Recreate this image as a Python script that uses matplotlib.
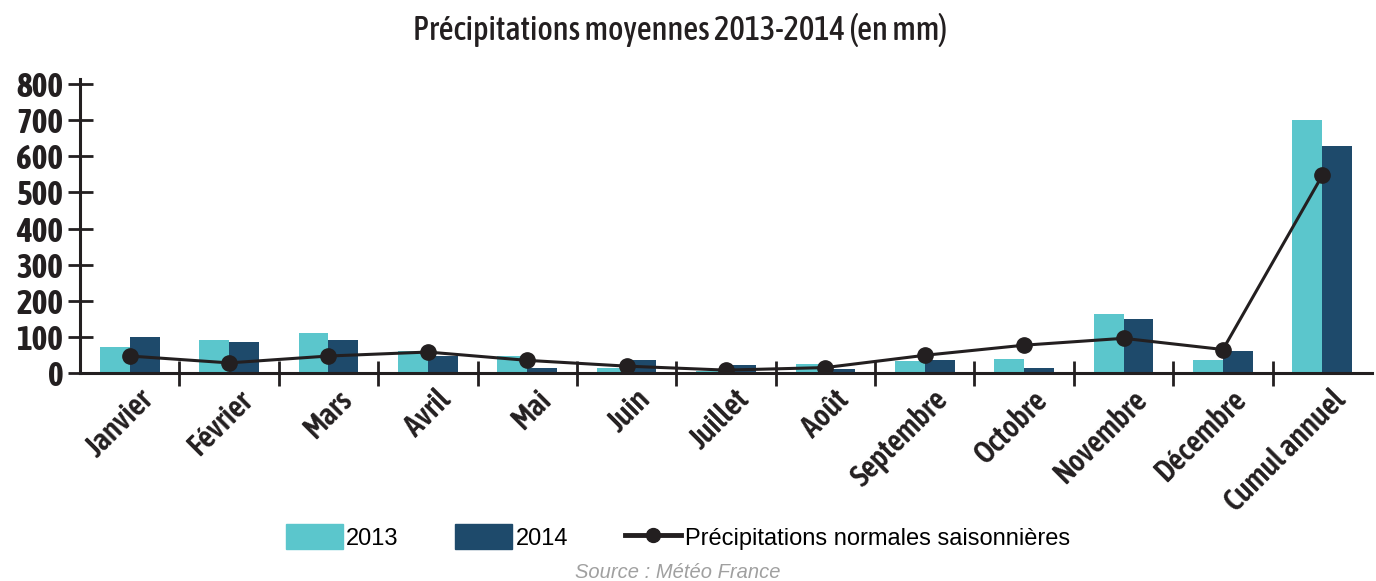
import matplotlib
matplotlib.use("Agg")
import matplotlib.pyplot as plt
import matplotlib.patheffects as pe
import numpy as np
from matplotlib.patches import Patch
from matplotlib.lines import Line2D
from matplotlib import font_manager as fm

categories = ["Janvier", "Février", "Mars", "Avril", "Mai", "Juin", "Juillet",
              "Août", "Septembre", "Octobre", "Novembre", "Décembre", "Cumul annuel"]
v2013 = [72, 91, 110, 60, 46, 14, 5, 24, 33, 39, 164, 35, 700]
v2014 = [100, 85, 91, 46, 14, 35, 21, 10, 35, 14, 150, 60, 629]
normales = [47, 28, 47, 58, 35, 19, 8, 15, 49, 77, 96, 65, 547]
yticks = [0, 100, 200, 300, 400, 500, 600, 700, 800]

# look for an upright condensed face
faces = {}
for f in fm.fontManager.ttflist:
    if str(f.style).lower() != "normal":
        continue
    n = f.name
    st = str(f.stretch).lower()
    if "narrow" in n.lower() or "condensed" in n.lower():
        key = (n, "normal")
    elif "condensed" in st:
        key = (n, "condensed")
    else:
        continue
    w = f.weight if isinstance(f.weight, int) else (700 if "bold" in str(f.weight) else 400)
    faces.setdefault(key, set()).add(w)

def score(kv):
    (n, s), ws = kv
    has_reg = any(350 <= w <= 500 for w in ws)
    has_b = any(600 <= w <= 800 for w in ws)
    return (-(has_reg and has_b), -has_reg, n)

cond_family, cond_stretch, has_bold = "Liberation Sans", "normal", True
weights = {400, 700}
if faces:
    best = sorted(faces.items(), key=score)
    (cond_family, cond_stretch), weights = best[0]
    has_bold = any(600 <= w <= 800 for w in weights)
plain = "Liberation Sans"
CF = [cond_family, "DejaVu Sans"]

def nearest(target):
    return min(weights, key=lambda w: (abs(w - target), -w))

c13 = "#5BC6CC"
c14 = "#1E4A6B"
cl = "#231F20"

ytick_w = nearest(700) if has_bold else 400
xlab_w = nearest(600) if has_bold else 400
title_w = nearest(500)
bold_fx = [] if has_bold else [pe.withStroke(linewidth=1.2, foreground=cl)]
xfx = [] if has_bold else [pe.withStroke(linewidth=0.7, foreground=cl)]

fig = plt.figure(figsize=(13.76, 5.81), dpi=100)
ax = fig.add_axes([80/1376, 1-373/581, 1292/1376, (373-84)/581])

x = np.arange(len(categories))
w = 0.3
ax.bar(x - w/2, v2013, w, color=c13, zorder=2)
ax.bar(x + w/2, v2014, w, color=c14, zorder=2)
ax.plot(x, normales, color=cl, lw=2.2, marker="o", ms=11, zorder=3)

ax.set_xlim(-0.5, len(categories) - 0.5)
ax.set_ylim(0, 800)
for s in ["top", "right"]:
    ax.spines[s].set_visible(False)
for s in ["left", "bottom"]:
    ax.spines[s].set_linewidth(2.2)
    ax.spines[s].set_color(cl)
ax.spines["left"].set_bounds(0, 815)

ax.set_yticks(yticks)
ax.set_yticklabels([str(t) for t in yticks], family=CF, stretch=cond_stretch,
                   fontsize=24, fontweight=ytick_w, color=cl)
for t in ax.get_yticklabels():
    t.set_path_effects(bold_fx)
ax.tick_params(axis="y", direction="inout", length=18, width=2, color=cl, pad=3)

ax.set_xticks(x[:-1] + 0.5)
ax.set_xticklabels([])
ax.tick_params(axis="x", direction="inout", length=18, width=2, color=cl)
for xi, lab in zip(x, categories):
    ax.text(xi + 0.08, -32, lab, rotation=45, ha="right", va="top",
            rotation_mode="anchor", family=CF, stretch=cond_stretch,
            fontsize=22, fontweight=xlab_w, color=cl, transform=ax.transData,
            path_effects=xfx)

fig.text(680/1376, 1-30/581, "Précipitations moyennes 2013-2014 (en mm)",
         ha="center", va="center", family=CF, stretch=cond_stretch, fontsize=23.5,
         fontweight=title_w, color=cl)

handles = [Patch(color=c13), Patch(color=c14),
           Line2D([], [], color=cl, lw=3.5, marker="o", ms=10)]
labels = ["2013", "2014", "Précipitations normales saisonnières"]
fig.legend(handles, labels, loc="center", bbox_to_anchor=(678/1376, 1-537/581),
           ncol=3, frameon=False, handlelength=2.4, handleheight=1.2,
           handletextpad=0.15, columnspacing=2.4,
           prop={"family": [plain, "DejaVu Sans"], "size": 17})

fig.text(678/1376, 1-572/581, "Source : Météo France", ha="center", va="center",
         family=[plain, "DejaVu Sans"], style="italic", fontsize=14.5, color="#A0A0A0")

fig.savefig("out.png", dpi=100)
